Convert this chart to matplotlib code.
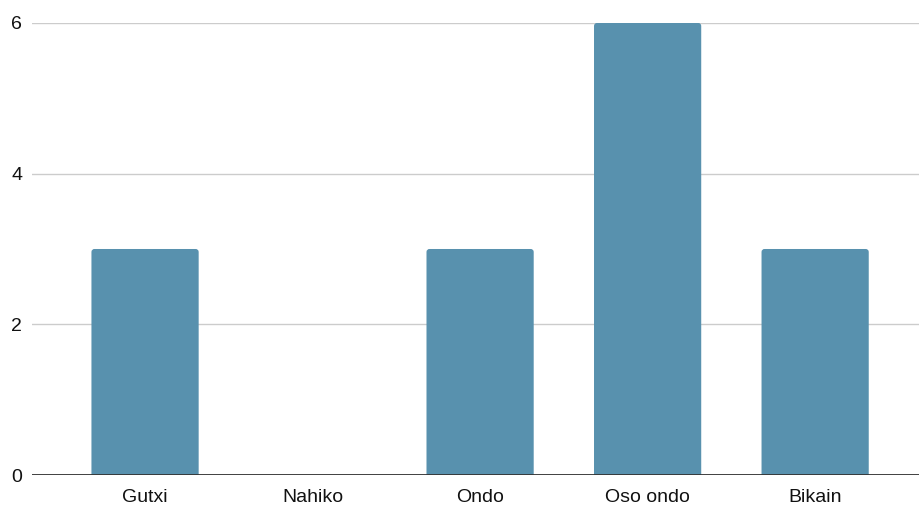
import matplotlib.pyplot as plt
from matplotlib.patches import FancyBboxPatch

# Data
categories = ['Gutxi', 'Nahiko', 'Ondo', 'Oso ondo', 'Bikain']
counts = [3, 0, 3, 6, 3]
y_ticks = [0, 2, 4, 6]

plt.rcParams['font.family'] = ['Liberation Sans', 'DejaVu Sans']

fig = plt.figure(figsize=(9.19, 5.05), dpi=100)
ax = fig.add_axes([0.0348, 0.0594, 0.9652, 0.8951])

ax.set_xlim(-0.675, 4.62)
ax.set_ylim(0, 6)

# bars with slightly rounded tops (bottom corners hidden below the axis)
bar_w = 0.64
x_per_px = (4.62 + 0.675) / 887
y_per_px = 6 / 452
for i, v in enumerate(counts):
    if v <= 0:
        continue
    p = FancyBboxPatch((i - bar_w / 2, -0.2), bar_w, v + 0.2,
                       boxstyle=f'round,pad=0,rounding_size={3 * x_per_px}',
                       mutation_aspect=y_per_px / x_per_px,
                       facecolor='#5891ae', edgecolor='none', zorder=3)
    ax.add_patch(p)

ax.set_xticks(range(len(categories)))
ax.set_xticklabels(categories)
ax.set_yticks(y_ticks)

# horizontal gridlines only
ax.grid(axis='y', color='#cccccc', linewidth=1, zorder=0)
ax.axhline(0, color='#333333', linewidth=1.3, zorder=4)

for s in ['top', 'right', 'left', 'bottom']:
    ax.spines[s].set_visible(False)
ax.tick_params(length=0, labelsize=14, colors='#111111')
ax.tick_params(axis='x', pad=10)
ax.tick_params(axis='y', pad=7)

fig.savefig('out.png', dpi=100)
